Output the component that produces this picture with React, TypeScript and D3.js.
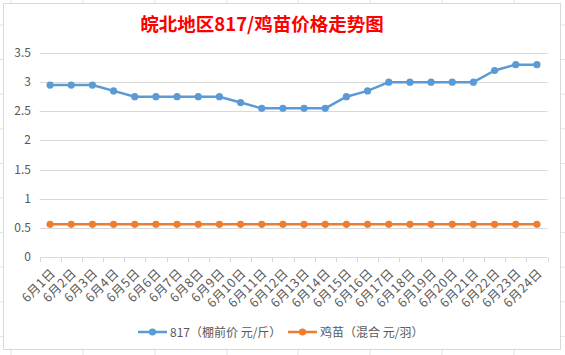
import React from "react";
import * as d3 from "d3";

const categories = ["6月1日","6月2日","6月3日","6月4日","6月5日","6月6日","6月7日","6月8日","6月9日","6月10日","6月11日","6月12日","6月13日","6月14日","6月15日","6月16日","6月17日","6月18日","6月19日","6月20日","6月21日","6月22日","6月23日","6月24日"];
const series817 = [2.95,2.95,2.95,2.85,2.75,2.75,2.75,2.75,2.75,2.65,2.55,2.55,2.55,2.55,2.75,2.85,3.0,3.0,3.0,3.0,3.0,3.2,3.3,3.3];
const seriesChick = [0.56,0.56,0.56,0.56,0.56,0.56,0.56,0.56,0.56,0.56,0.56,0.56,0.56,0.56,0.56,0.56,0.56,0.56,0.56,0.56,0.56,0.56,0.56,0.56];
const yTicks = [0, 0.5, 1, 1.5, 2, 2.5, 3, 3.5];
const seriesNames = ["817（棚前价 元/斤）", "鸡苗（混合 元/羽）"];
const title = "皖北地区817/鸡苗价格走势图";

const W = 565, H = 355;
const FONT = "'Noto Sans CJK SC', 'Microsoft YaHei', sans-serif";
const colors = ["#5B9BD5", "#ED7D31"];

export default function App() {
  const x = d3.scaleBand<string>().domain(categories).range([39.5, 547.5]);
  const y = d3.scaleLinear().domain([0, 3.5]).range([257, 53]);
  const cx = (c: string) => (x(c) as number) + x.bandwidth() / 2;
  const line = d3.line<number>().x((_, i) => cx(categories[i])).y((d) => y(d));
  const data = [series817, seriesChick];

  const colLines = [11, 83, 155, 227, 298, 370, 442, 514];
  const rowLines = d3.range(0, 11).map((i) => 25 + i * 34.6);

  return (
    <svg width={W} height={H} style={{ position: "absolute", left: 0, top: 0, background: "#fff" }}>
      {colLines.map((cxv, i) => (
        <line key={"c" + i} x1={cxv} x2={cxv} y1={0} y2={H} stroke="#e3e3e3" />
      ))}
      {rowLines.map((ry, i) => (
        <line key={"r" + i} x1={0} x2={W} y1={ry} y2={ry} stroke="#e3e3e3" />
      ))}
      <rect x={3.5} y={3.5} width={557} height={346} fill="#fff" stroke="#d9d9d9" />
      <text x={262} y={31} textAnchor="middle" fontFamily={FONT} fontSize={18.5} fontWeight="bold" fill="#FF0000">
        {title}
      </text>
      {yTicks.map((t) => (
        <g key={t}>
          {t > 0 && <line x1={39.5} x2={547.5} y1={Math.round(y(t)) + 0.5} y2={Math.round(y(t)) + 0.5} stroke="#d9d9d9" />}
          <text x={31} y={y(t) + 4} textAnchor="end" fontFamily={FONT} fontSize={12} fill="#595959">
            {t}
          </text>
        </g>
      ))}
      <line x1={39.5} x2={547.5} y1={257.5} y2={257.5} stroke="#d9d9d9" />
      {categories.concat([""]).map((c, i) => {
        const xx = Math.round(39.5 + i * x.bandwidth()) + 0.5;
        return <line key={"t" + i} x1={xx} x2={xx} y1={257.5} y2={262.5} stroke="#d9d9d9" />;
      })}
      {categories.map((c) => (
        <text
          key={c}
          transform={`translate(${cx(c) + 6},${274}) rotate(-45)`}
          textAnchor="end"
          fontFamily={FONT}
          fontSize={12.5}
          letterSpacing={0.5}
          fill="#595959"
        >
          {c}
        </text>
      ))}
      {data.map((s, si) => (
        <g key={si}>
          <path d={line(s) || ""} fill="none" stroke={colors[si]} strokeWidth={2.5} strokeLinejoin="round" />
          {s.map((v, i) => (
            <circle key={i} cx={cx(categories[i])} cy={y(v)} r={3.6} fill={colors[si]} />
          ))}
        </g>
      ))}
      {seriesNames.map((n, i) => {
        const lx = i === 0 ? 138 : 288;
        return (
          <g key={n}>
            <line x1={lx} x2={lx + 29} y1={332} y2={332} stroke={colors[i]} strokeWidth={2.5} />
            <circle cx={lx + 14.5} cy={332} r={3.6} fill={colors[i]} />
            <text x={lx + 32} y={336.5} fontFamily={FONT} fontSize={12} fill="#595959">
              {n}
            </text>
          </g>
        );
      })}
    </svg>
  );
}
